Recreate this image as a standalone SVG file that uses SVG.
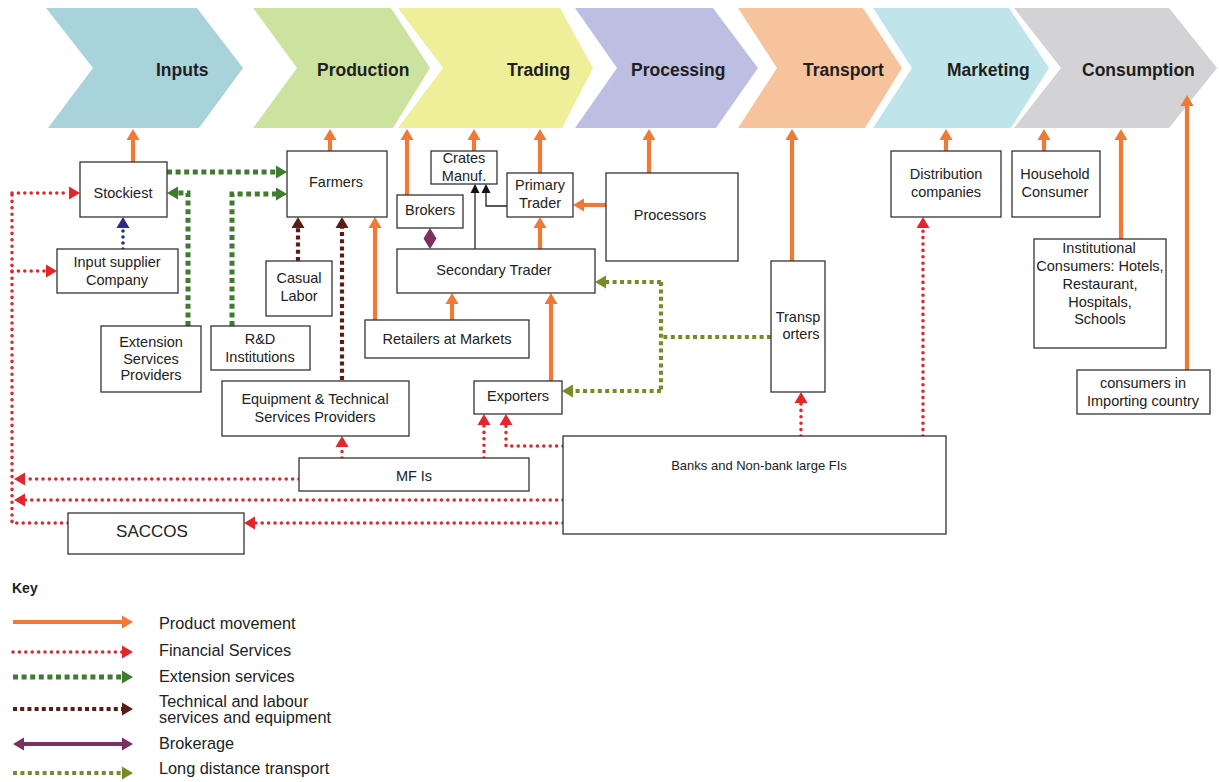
<svg xmlns="http://www.w3.org/2000/svg" width="1219" height="782" viewBox="0 0 1219 782">
  <style>
    .stage { font: bold 17.5px "Liberation Sans", Arial, sans-serif; fill: #1e1e1e; }
    .box { fill: #ffffff; stroke: #333333; stroke-width: 1.3; }
    .t { font: 14.5px "Liberation Sans", Arial, sans-serif; fill: #222222; text-anchor: middle; }
    .k { font: 16.3px "Liberation Sans", Arial, sans-serif; fill: #222222; }
    .prod { fill: none; stroke: #ee7a35; stroke-width: 4.2; marker-end: url(#hOr); }
    .fin { fill: none; stroke: #e3262b; stroke-width: 3.6; stroke-linecap: round; stroke-dasharray: 0 6.4; }
    .fin.a { marker-end: url(#hRd); }
    .ext { fill: none; stroke: #3e7d2f; stroke-width: 5; stroke-dasharray: 5 3.6; marker-end: url(#hGr); }
    .tech { fill: none; stroke: #5a1c14; stroke-width: 4.2; stroke-dasharray: 4 3.2; marker-end: url(#hMr); }
    .lng { fill: none; stroke: #7b8a27; stroke-width: 4.2; stroke-dasharray: 4 3.4; }
    .lng.a { marker-end: url(#hOl); }
    .blk { fill: none; stroke: #222222; stroke-width: 1.3; marker-end: url(#hBk); }
    .sup { fill: none; stroke: #2b2b8e; stroke-width: 3.6; stroke-linecap: round; stroke-dasharray: 0 6; marker-end: url(#hNv); }
    .brk { fill: none; stroke: #7d2f60; stroke-width: 4.2; marker-end: url(#hPu); marker-start: url(#hPu); }
  </style>
  <defs>
    <marker id="hOr" markerUnits="userSpaceOnUse" markerWidth="12" markerHeight="13" refX="0" refY="6.5" orient="auto" overflow="visible"><path d="M0,0 L11,6.5 L0,13 z" fill="#ee7a35"/></marker>
    <marker id="hRd" markerUnits="userSpaceOnUse" markerWidth="12" markerHeight="13" refX="0" refY="6.5" orient="auto" overflow="visible"><path d="M0,0 L11,6.5 L0,13 z" fill="#e3262b"/></marker>
    <marker id="hGr" markerUnits="userSpaceOnUse" markerWidth="12" markerHeight="13" refX="0" refY="6.5" orient="auto" overflow="visible"><path d="M0,0 L11,6.5 L0,13 z" fill="#3e7d2f"/></marker>
    <marker id="hMr" markerUnits="userSpaceOnUse" markerWidth="12" markerHeight="13" refX="0" refY="6.5" orient="auto" overflow="visible"><path d="M0,0 L11,6.5 L0,13 z" fill="#5a1c14"/></marker>
    <marker id="hOl" markerUnits="userSpaceOnUse" markerWidth="12" markerHeight="13" refX="0" refY="6.5" orient="auto" overflow="visible"><path d="M0,0 L11,6.5 L0,13 z" fill="#7b8a27"/></marker>
    <marker id="hNv" markerUnits="userSpaceOnUse" markerWidth="12" markerHeight="13" refX="0" refY="6.5" orient="auto" overflow="visible"><path d="M0,0 L11,6.5 L0,13 z" fill="#2b2b8e"/></marker>
    <marker id="hPu" markerUnits="userSpaceOnUse" markerWidth="12" markerHeight="13" refX="0" refY="6.5" orient="auto-start-reverse" overflow="visible"><path d="M0,0 L11,6.5 L0,13 z" fill="#7d2f60"/></marker>
    <marker id="hBk" markerUnits="userSpaceOnUse" markerWidth="9" markerHeight="9" refX="0" refY="4.5" orient="auto" overflow="visible"><path d="M0,0 L9,4.5 L0,9 z" fill="#111111"/></marker>
  </defs>

  <rect width="1219" height="782" fill="#ffffff"/>

  <!-- value-chain stages -->
  <g id="stages">
    <g id="stage-inputs"><polygon points="46,8 197,8 243,68 199,128 48,128 93,68" fill="#a8d3db"/><text class="stage" x="156" y="75.5">Inputs</text></g>
    <g id="stage-production"><polygon points="253,8 391,8 430,68 393,128 253,128 297,68" fill="#cce3a0"/><text class="stage" x="317" y="75.5">Production</text></g>
    <g id="stage-trading"><polygon points="398,8 560,8 593,68 562,128 398,128 443,68" fill="#eeef98"/><text class="stage" x="507" y="75.5">Trading</text></g>
    <g id="stage-processing"><polygon points="575,8 713,8 758,68 716,128 575,128 617,68" fill="#bcbfe2"/><text class="stage" x="631" y="75.5">Processing</text></g>
    <g id="stage-transport"><polygon points="738,8 863,8 902,68 865,128 738,128 777,68" fill="#f7c39c"/><text class="stage" x="803" y="75.5">Transport</text></g>
    <g id="stage-marketing"><polygon points="873,8 1009,8 1049,68 1011,128 873,128 912,68" fill="#bfe5ea"/><text class="stage" x="947" y="75.5">Marketing</text></g>
    <g id="stage-consumption"><polygon points="1014,8 1169,8 1217,68 1169,128 1014,128 1061,68" fill="#d3d3d5"/><text class="stage" x="1082" y="75.5">Consumption</text></g>
  </g>

  <!-- connectors -->
  <g id="connectors">
    <!-- product movement -->
    <path class="prod" d="M133,162 V140"/>
    <path class="prod" d="M330,151 V140"/>
    <path class="prod" d="M407,195 V140"/>
    <path class="prod" d="M474,151 V140"/>
    <path class="prod" d="M540,173 V140"/>
    <path class="prod" d="M649,173 V140"/>
    <path class="prod" d="M792,261 V140"/>
    <path class="prod" d="M946,151 V140"/>
    <path class="prod" d="M1044,151 V140"/>
    <path class="prod" d="M1121,239 V140"/>
    <path class="prod" d="M1187,370 V106"/>
    <path class="prod" d="M606,205 H584"/>
    <path class="prod" d="M540,249 V228"/>
    <path class="prod" d="M452,320 V304"/>
    <path class="prod" d="M551,381 V304"/>
    <path class="prod" d="M375,320 V228"/>

    <!-- traders to crate makers -->
    <path class="blk" d="M475,249 V193"/>
    <path class="blk" d="M507,206 H486 V193"/>

    <!-- brokerage -->
    <polygon points="430,228 436.5,238.5 430,249 423.5,238.5" fill="#7d2f60"/>

    <!-- input supply -->
    <path class="sup" d="M123,249 V228"/>

    <!-- extension services -->
    <path class="ext" d="M167,172 H276"/>
    <path class="ext" d="M188,326 V193 H178"/>
    <path class="ext" d="M232,326 V194 H276"/>

    <!-- technical and labour -->
    <path class="tech" d="M298,261 V228"/>
    <path class="tech" d="M342,380 V228"/>

    <!-- financial services -->
    <path class="fin" d="M68,523 H12 V193"/>
    <path class="fin a" d="M12,193 H69"/>
    <path class="fin a" d="M12,271 H46"/>
    <path class="fin a" d="M299,479 H25"/>
    <path class="fin a" d="M563,500 H25"/>
    <path class="fin a" d="M563,523 H255"/>
    <path class="fin a" d="M342,458 V447"/>
    <path class="fin a" d="M484,458 V425"/>
    <path class="fin a" d="M563,446 H506 V425"/>
    <path class="fin a" d="M801,436 V403"/>
    <path class="fin a" d="M923,436 V228"/>

    <!-- long distance transport -->
    <path class="lng" d="M771,337 H661"/>
    <path class="lng" d="M661,282 V391"/>
    <path class="lng a" d="M661,282 H606"/>
    <path class="lng a" d="M661,391 H573"/>
  </g>

  <!-- actors -->
  <g id="stockiest"><rect class="box" x="80" y="162" width="87" height="55"/><text class="t" x="123" y="198">Stockiest</text></g>
  <g id="input-supplier"><rect class="box" x="57" y="249" width="121" height="44"/><text class="t" x="117" y="267">Input supplier</text><text class="t" x="117" y="285">Company</text></g>
  <g id="farmers"><rect class="box" x="287" y="151" width="100" height="66"/><text class="t" x="336" y="187">Farmers</text></g>
  <g id="casual-labor"><rect class="box" x="266" y="261" width="66" height="55"/><text class="t" x="299" y="283">Casual</text><text class="t" x="299" y="301">Labor</text></g>
  <g id="extension-providers"><rect class="box" x="101" y="326" width="100" height="66"/><text class="t" x="151" y="347">Extension</text><text class="t" x="151" y="364">Services</text><text class="t" x="151" y="380">Providers</text></g>
  <g id="rnd"><rect class="box" x="211" y="326" width="99" height="44"/><text class="t" x="260" y="344">R&amp;D</text><text class="t" x="260" y="362">Institutions</text></g>
  <g id="equipment"><rect class="box" x="222" y="381" width="187" height="55"/><text class="t" x="315" y="404">Equipment &amp; Technical</text><text class="t" x="315" y="422">Services Providers</text></g>
  <g id="mfis"><rect class="box" x="299" y="458" width="230" height="33"/><text class="t" x="414" y="481">MF Is</text></g>
  <g id="saccos"><rect class="box" x="68" y="513" width="176" height="41"/><text class="t" x="152" y="537" style="font-size:17px">SACCOS</text></g>
  <g id="crates"><rect class="box" x="431" y="151" width="66" height="33"/><text class="t" x="464" y="163">Crates</text><text class="t" x="464" y="181">Manuf.</text></g>
  <g id="brokers"><rect class="box" x="397" y="195" width="66" height="33"/><text class="t" x="430" y="215">Brokers</text></g>
  <g id="primary-trader"><rect class="box" x="507" y="173" width="66" height="44"/><text class="t" x="540" y="190">Primary</text><text class="t" x="540" y="208">Trader</text></g>
  <g id="processors"><rect class="box" x="606" y="173" width="132" height="88"/><text class="t" x="670" y="220">Processors</text></g>
  <g id="secondary-trader"><rect class="box" x="397" y="249" width="198" height="44"/><text class="t" x="494" y="275">Secondary Trader</text></g>
  <g id="retailers"><rect class="box" x="365" y="320" width="164" height="38"/><text class="t" x="447" y="344">Retailers at Markets</text></g>
  <g id="exporters"><rect class="box" x="474" y="381" width="88" height="33"/><text class="t" x="518" y="401">Exporters</text></g>
  <g id="transporters"><rect class="box" x="771" y="261" width="54" height="131"/><text class="t" x="798" y="322">Transp</text><text class="t" x="801" y="339">orters</text></g>
  <g id="banks"><rect class="box" x="563" y="436" width="383" height="98"/><text class="t" x="759" y="470" style="font-size:13px">Banks and Non-bank large FIs</text></g>
  <g id="distribution"><rect class="box" x="891" y="151" width="110" height="66"/><text class="t" x="946" y="179">Distribution</text><text class="t" x="946" y="197">companies</text></g>
  <g id="household"><rect class="box" x="1012" y="151" width="88" height="66"/><text class="t" x="1055" y="179">Household</text><text class="t" x="1055" y="197">Consumer</text></g>
  <g id="institutional"><rect class="box" x="1034" y="239" width="132" height="109"/><text class="t" x="1099" y="253">Institutional</text><text class="t" x="1100" y="271">Consumers: Hotels,</text><text class="t" x="1100" y="289">Restaurant,</text><text class="t" x="1100" y="307">Hospitals,</text><text class="t" x="1100" y="324">Schools</text></g>
  <g id="importing"><rect class="box" x="1077" y="370" width="133" height="44"/><text class="t" x="1143" y="388">consumers in</text><text class="t" x="1143" y="406">Importing country</text></g>

  <!-- key -->
  <g id="key">
    <text x="12" y="593" style="font: bold 14px 'Liberation Sans', Arial, sans-serif; fill:#1e1e1e">Key</text>
    <path class="prod" d="M13,622 H122"/>
    <text class="k" x="159" y="629">Product movement</text>
    <path class="fin a" d="M13,652 H122"/>
    <text class="k" x="159" y="656">Financial Services</text>
    <path class="ext" d="M13,677 H122"/>
    <text class="k" x="159" y="682">Extension services</text>
    <path class="tech" d="M13,709 H122"/>
    <text class="k" x="159" y="707">Technical and labour</text>
    <text class="k" x="159" y="723">services and equipment</text>
    <path class="brk" d="M24,744 H122"/>
    <text class="k" x="159" y="749">Brokerage</text>
    <path class="lng a" d="M13,773 H122"/>
    <text class="k" x="159" y="774">Long distance transport</text>
  </g>
</svg>
